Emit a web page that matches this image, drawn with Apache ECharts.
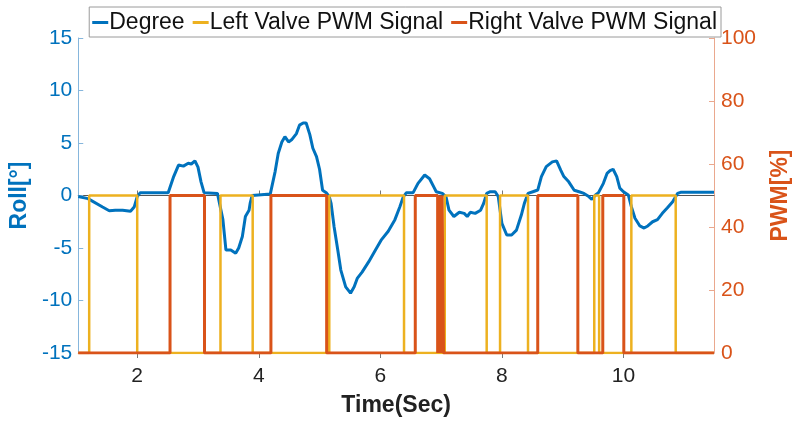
<!DOCTYPE html>
<html>
<head>
<meta charset="utf-8">
<title>Roll and valve PWM</title>
<script src="https://cdn.jsdelivr.net/npm/echarts@6/dist/echarts.min.js"></script>
<style>
  html, body { margin: 0; padding: 0; background: #fff; }
  #chart { width: 800px; height: 422px; }
</style>
</head>
<body>
<div id="chart"></div>
<script>
// time axis range (seconds)
const timeMin = 1.03;
const timeMax = 11.49;
const timeTicks = [2, 4, 6, 8, 10];

// roll angle
const rollTime = [1.03, 1.19, 1.43, 1.54, 1.64, 1.76, 1.89, 1.95, 2.0, 2.05, 2.51, 2.6, 2.68, 2.76, 2.84, 2.89, 2.95, 3.0, 3.05, 3.1,
  3.32, 3.41, 3.46, 3.54, 3.62, 3.67, 3.73, 3.78, 3.84, 3.86, 3.89, 3.92, 4.19, 4.27, 4.32, 4.38, 4.43, 4.49, 4.54, 4.62,
  4.67, 4.73, 4.78, 4.84, 4.89, 4.95, 5.0, 5.05, 5.11, 5.16, 5.19, 5.24, 5.3, 5.35, 5.43, 5.51, 5.57, 5.62, 5.7, 5.81,
  5.92, 6.02, 6.13, 6.24, 6.32, 6.38, 6.43, 6.54, 6.62, 6.73, 6.81, 6.89, 6.92, 7.02, 7.08, 7.13, 7.21, 7.3, 7.38, 7.43,
  7.48, 7.56, 7.65, 7.7, 7.75, 7.81, 7.89, 7.94, 8.0, 8.08, 8.16, 8.24, 8.32, 8.37, 8.43, 8.51, 8.59, 8.65, 8.73, 8.83,
  8.9, 8.97, 9.02, 9.1, 9.19, 9.27, 9.35, 9.43, 9.48, 9.54, 9.59, 9.67, 9.73, 9.78, 9.83, 9.89, 9.94, 10.0, 10.08, 10.13,
  10.19, 10.27, 10.34, 10.4, 10.48, 10.56, 10.64, 10.72, 10.81, 10.89, 10.94, 11.49];
const rollDeg = [-0.1, -0.3, -1.1, -1.45, -1.4, -1.4, -1.5, -1.1, -0.1, 0.27, 0.27, 1.8, 2.9, 2.8, 3.07, 3.0, 3.3, 2.7, 1.3, 0.27,
  0.2, -2.3, -5.2, -5.2, -5.5, -5.0, -3.9, -2.0, -1.4, -0.7, 0.0, 0.15, 0.15, 2.3, 4.0, 5.1, 5.6, 5.1, 5.3, 5.9,
  6.7, 6.9, 6.9, 5.8, 4.5, 3.7, 2.5, 0.5, 0.27, -0.1, -0.75, -3.0, -5.2, -7.1, -8.7, -9.3, -8.7, -7.9, -7.3, -6.3,
  -5.2, -4.2, -3.4, -2.3, -1.1, -0.1, 0.27, 0.27, 1.16, 1.95, 1.6, 0.7, 0.36, 0.2, -0.1, -1.4, -2.0, -1.6, -1.7, -2.0,
  -1.6, -1.7, -1.4, -0.75, 0.2, 0.36, 0.36, -0.1, -2.65, -3.76, -3.76, -3.3, -1.86, -0.75, 0.2, 0.36, 0.52, 1.8, 2.75, 3.2,
  3.3, 2.4, 1.8, 1.3, 0.5, 0.36, 0.2, -0.1, -0.36, 0.05, 0.27, 1.16, 2.1, 2.36, 2.5, 1.8, 0.7, 0.36, 0.05, -1.06,
  -2.17, -2.9, -3.1, -2.9, -2.5, -2.3, -1.7, -1.2, -0.6, 0.2, 0.3, 0.3];

// valve PWM: switch-on / switch-off times (s) and on level (%)
const pwmOn = 50;
const leftRise = [1.21, 3.37, 5.16, 7.06, 7.97, 9.52, 10.13];
const leftFall = [2.0, 3.9, 6.39, 7.75, 8.43, 9.6, 10.86];
const rightRise = [2.54, 4.2, 6.575, 6.967, 7.016, 8.59, 9.66];
const rightFall = [3.107, 5.117, 6.943, 6.992, 7.04, 9.25, 10.006];

const legendNames = ['Degree', 'Left Valve PWM Signal', 'Right Valve PWM Signal'];

function stepData(rise, fall) {
  const pts = [[timeMin, 0]];
  for (let i = 0; i < rise.length; i++) {
    pts.push([rise[i], 0], [rise[i], pwmOn], [fall[i], pwmOn], [fall[i], 0]);
  }
  pts.push([timeMax, 0]);
  return pts;
}

const chart = echarts.init(document.getElementById('chart'));
const font = 'Liberation Sans, Arial, sans-serif';

const option = {
  animation: false,
  backgroundColor: '#fff',
  textStyle: { fontFamily: font },
  grid: { left: 74, right: 79, top: 38, bottom: 69 },
  legend: {
    data: legendNames,
    right: 79,
    top: 7,
    padding: [4, 4, 3, 3],
    itemGap: 8,
    itemWidth: 16,
    itemHeight: 3,
    icon: 'rect',
    borderColor: '#9a9a9a',
    borderWidth: 1,
    backgroundColor: '#fff',
    z: 10,
    textStyle: { fontSize: 23, color: '#111', padding: [0, 0, 0, -4] }
  },
  xAxis: [
    {
      type: 'value',
      min: timeMin,
      max: timeMax,
      name: 'Time(Sec)',
      nameLocation: 'middle',
      nameGap: 41,
      nameTextStyle: { fontSize: 23, fontWeight: 'bold', color: '#222' },
      axisLine: { lineStyle: { color: '#555' } },
      axisTick: { inside: true, length: 5, lineStyle: { color: '#777' }, customValues: timeTicks },
      axisLabel: { fontSize: 21, color: '#222', margin: 13, customValues: timeTicks },
      splitLine: { show: false }
    },
    {
      type: 'value',
      position: 'top',
      min: timeMin,
      max: timeMax,
      axisLine: { lineStyle: { color: '#aaa' } },
      axisTick: { inside: true, length: 5, lineStyle: { color: '#777' }, customValues: timeTicks },
      axisLabel: { show: false },
      splitLine: { show: false }
    }
  ],
  yAxis: [
    {
      type: 'value',
      min: -15,
      max: 15,
      interval: 5,
      name: 'Roll[°]',
      nameLocation: 'middle',
      nameRotate: 90,
      nameGap: 40,
      nameTextStyle: { fontSize: 23, fontWeight: 'bold', color: '#0072BD' },
      axisLine: { show: true, lineStyle: { color: '#86b6dc' } },
      axisTick: { show: true, inside: true, length: 5, lineStyle: { color: '#86b6dc' } },
      axisLabel: { fontSize: 21, color: '#0072BD', margin: 6 },
      splitLine: { show: false }
    },
    {
      type: 'value',
      min: 0,
      max: 100,
      interval: 20,
      position: 'right',
      name: 'PWM[%]',
      nameLocation: 'middle',
      nameRotate: 90,
      nameGap: 55,
      nameTextStyle: { fontSize: 23, fontWeight: 'bold', color: '#D95319' },
      axisLine: { show: true, lineStyle: { color: '#eaa88e' } },
      axisTick: { show: true, inside: true, length: 5, lineStyle: { color: '#eaa88e' } },
      axisLabel: { fontSize: 21, color: '#D95319', margin: 7 },
      splitLine: { show: false }
    }
  ],
  series: [
    {
      name: legendNames[0],
      type: 'line',
      yAxisIndex: 0,
      showSymbol: false,
      color: '#0072BD',
      lineStyle: { width: 3 },
      data: rollTime.map((t, i) => [t, rollDeg[i]])
    },
    {
      name: legendNames[1],
      type: 'line',
      yAxisIndex: 1,
      showSymbol: false,
      color: '#EDB120',
      lineStyle: { width: 2.5 },
      data: stepData(leftRise, leftFall)
    },
    {
      name: legendNames[2],
      type: 'line',
      yAxisIndex: 1,
      showSymbol: false,
      color: '#D95319',
      lineStyle: { width: 3 },
      data: stepData(rightRise, rightFall)
    }
  ]
};

chart.setOption(option);
</script>
</body>
</html>
